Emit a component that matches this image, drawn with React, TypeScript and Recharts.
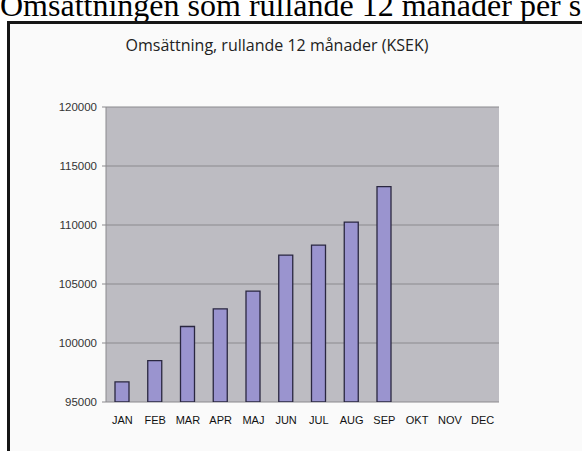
import { BarChart, Bar, XAxis, YAxis, CartesianGrid } from "recharts";

const months = ["JAN", "FEB", "MAR", "APR", "MAJ", "JUN", "JUL", "AUG", "SEP", "OKT", "NOV", "DEC"];
const revenue = [96700, 98500, 101400, 102900, 104400, 107450, 108300, 110250, 113250, null, null, null];
const yTicks = [95000, 100000, 105000, 110000, 115000, 120000];

const data = months.map((month, i) => ({ month, value: revenue[i] }));
// tick marks sit between the months, like the old Excel chart
const monthEdges = months.map((_, i) => i).concat(months.length);

const sans = "'Liberation Sans', Arial, sans-serif";
const gridGray = "#8b8a8e";

export default function App() {
  return (
    <div
      style={{
        position: "absolute",
        left: 0,
        top: 0,
        width: 582,
        height: 451,
        overflow: "hidden",
        background: "#fff",
      }}
    >
      <div
        style={{
          position: "absolute",
          left: 0,
          top: -11,
          whiteSpace: "nowrap",
          fontFamily: "'Liberation Serif', 'Times New Roman', serif",
          fontSize: 32,
          lineHeight: "32px",
          color: "#000",
        }}
      >
        Omsättningen som rullande 12 månader per s
      </div>
      <div
        style={{
          position: "absolute",
          left: 7,
          top: 21,
          width: 600,
          height: 460,
          border: "3px solid #161616",
          background: "#fafafa",
        }}
      />
      <div
        style={{
          position: "absolute",
          left: 0,
          top: 34,
          width: 554,
          textAlign: "center",
          fontFamily: "'Open Sans', sans-serif",
          fontSize: 16,
          color: "#222",
        }}
      >
        Omsättning, rullande 12 månader (KSEK)
      </div>
      <div style={{ position: "absolute", left: 0, top: 0 }}>
        <BarChart
          width={582}
          height={451}
          data={data}
          margin={{ top: 107, right: 83, bottom: 24, left: 46 }}
          barSize={14}
        >
          <CartesianGrid vertical={false} fill="#bdbcc2" stroke={gridGray} fillOpacity={1} />
          <XAxis
            xAxisId="edges"
            type="number"
            domain={[0, months.length]}
            ticks={monthEdges}
            tick={false}
            tickSize={4}
            tickLine={{ stroke: gridGray }}
            axisLine={{ stroke: gridGray }}
            height={0}
            allowDataOverflow
          />
          <XAxis
            dataKey="month"
            interval={0}
            tickLine={false}
            axisLine={false}
            tickSize={6}
            tickMargin={8}
            height={25}
            tick={{ fill: "#111", fontSize: 11, fontFamily: sans }}
          />
          <YAxis
            domain={[95000, 120000]}
            ticks={yTicks}
            interval={0}
            width={60}
            tickSize={4}
            tickMargin={5}
            allowDataOverflow
            tickLine={{ stroke: gridGray }}
            axisLine={{ stroke: gridGray }}
            tick={{ fill: "#333", fontSize: 11.5, fontFamily: sans }}
          />
          <YAxis
            yAxisId="right"
            orientation="right"
            domain={[95000, 120000]}
            width={0}
            tick={false}
            tickLine={false}
            axisLine={{ stroke: gridGray }}
          />
          <Bar
            dataKey="value"
            fill="#9a94cf"
            stroke="#2a2740"
            strokeWidth={1.3}
            isAnimationActive={false}
          />
        </BarChart>
      </div>
    </div>
  );
}
